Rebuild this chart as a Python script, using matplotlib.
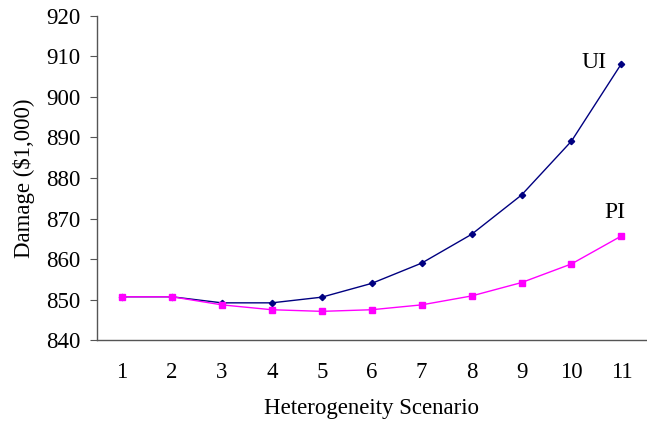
import matplotlib
matplotlib.use("Agg")
import matplotlib.pyplot as plt

scenarios = [1, 2, 3, 4, 5, 6, 7, 8, 9, 10, 11]
ui_values = [850.7, 850.7, 849.2, 849.2, 850.6, 854.0, 859.0, 866.1, 875.8, 889.1, 908.2]
pi_values = [850.7, 850.7, 848.7, 847.5, 847.1, 847.5, 848.7, 850.9, 854.2, 858.8, 865.7]

plt.rcParams['font.family'] = ['Liberation Serif', 'DejaVu Serif']

fig = plt.figure(figsize=(6.47, 4.30), dpi=100)
ax = fig.add_axes([0.150, 0.209, 0.849, 0.754])

ax.plot(scenarios, ui_values, color='#000080', lw=1.0, marker='D', ms=3.2, zorder=2)
ax.plot(scenarios, pi_values, color='#FF00FF', lw=1.0, marker='s', ms=4.5, zorder=3)

ax.set_xlim(0.5, 11.5)
ax.set_ylim(840, 920)
ax.set_yticks(range(840, 921, 10))
ax.set_xticks(scenarios)
ax.tick_params(axis='x', length=0, pad=15.5, labelsize=16.5)
ax.tick_params(axis='y', length=5, direction='out', pad=7, labelsize=16.5, color='#555555')

for s in ['top', 'right']:
    ax.spines[s].set_visible(False)
for s in ['left', 'bottom']:
    ax.spines[s].set_color('#555555')
    ax.spines[s].set_linewidth(1.0)

ax.set_xlabel('Heterogeneity Scenario', fontsize=16.5, labelpad=11)
ax.set_ylabel('Damage ($1,000)', fontsize=16.5, labelpad=8)

ax.text(10.45, 908.6, 'UI', fontsize=17, ha='center', va='center')
ax.text(10.88, 871.6, 'PI', fontsize=17, ha='center', va='center')

fig.savefig('out.png', dpi=100)
